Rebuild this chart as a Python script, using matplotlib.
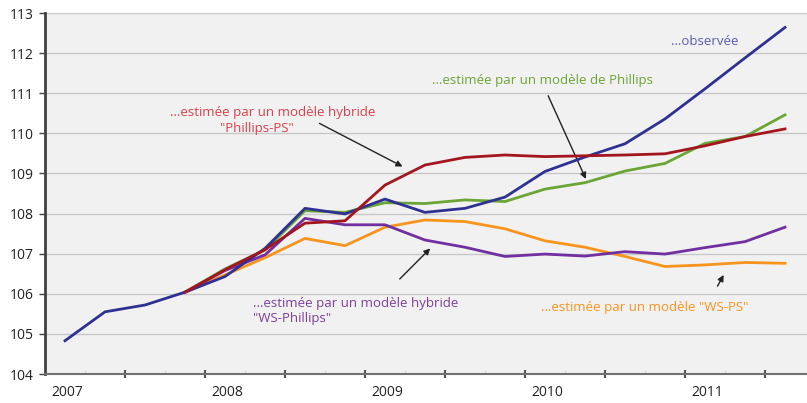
import matplotlib
matplotlib.use("Agg")
import matplotlib.pyplot as plt
from matplotlib.ticker import FixedLocator

plt.rcParams['font.family'] = ['Open Sans', 'DejaVu Sans']

# quarterly index, 2007Q1 .. 2011Q3
quarters = list(range(19))
years = ["2007", "2008", "2009", "2010", "2011"]
year_pos = [0, 4, 8, 12, 16]

observed = [104.83, 105.55, 105.72, 106.04, 106.43, 107.13, 108.13, 107.99,
            108.36, 108.03, 108.13, 108.41, 109.05, 109.41, 109.74, 110.36,
            111.11, 111.88, 112.64]

# model series start at 2007Q4
model_q = quarters[3:]
phillips = [106.04, 106.62, 107.09, 108.07, 108.03, 108.27, 108.25, 108.34,
            108.30, 108.61, 108.77, 109.06, 109.25, 109.75, 109.92, 110.46]
phillips_ps = [106.04, 106.60, 107.10, 107.76, 107.82, 108.71, 109.21, 109.40,
               109.46, 109.42, 109.44, 109.46, 109.49, 109.69, 109.92, 110.11]
ws_phillips = [106.04, 106.58, 106.97, 107.88, 107.72, 107.72, 107.34, 107.16,
               106.93, 106.99, 106.94, 107.05, 106.99, 107.15, 107.30, 107.66]
ws_ps = [106.04, 106.47, 106.90, 107.38, 107.20, 107.66, 107.84, 107.80,
         107.62, 107.32, 107.16, 106.93, 106.68, 106.72, 106.78, 106.76]

fig = plt.figure(figsize=(8.07, 4.03), dpi=100)
ax = fig.add_axes([45 / 807, 29 / 403, 1 - 45 / 807, 361 / 403])
ax.set_facecolor('#f1f1f1')

ax.plot(model_q, ws_ps, color='#f7941d', lw=2, zorder=3)
ax.plot(model_q, ws_phillips, color='#7030a0', lw=2, zorder=3)
ax.plot(model_q, phillips, color='#6aa535', lw=2, zorder=3)
ax.plot(quarters, observed, color='#2e3192', lw=2, zorder=4)
ax.plot(model_q, phillips_ps, color='#a3151f', lw=2, zorder=5)

ax.set_xlim(-0.5, 18.55)
ax.set_ylim(104, 113)
ax.set_yticks(range(104, 114))
ax.grid(axis='y', color='#c8c8c8', lw=1)
ax.set_axisbelow(True)

for s in ['top', 'right']:
    ax.spines[s].set_visible(False)
ax.spines['left'].set_color('#404040')
ax.spines['left'].set_linewidth(2)
ax.spines['bottom'].set_color('#707070')
ax.spines['bottom'].set_linewidth(1.5)

ax.tick_params(axis='y', length=4, width=1, color='#404040',
               labelsize=10, labelcolor='#222222', pad=4)
ax.xaxis.set_major_locator(FixedLocator([1.5 + 2 * i for i in range(9)]))
ax.xaxis.set_minor_locator(FixedLocator([0.5 + 2 * i for i in range(9)]))
ax.tick_params(axis='x', which='major', direction='inout', length=6, width=1.5,
               color='#505050', labelbottom=False)
ax.tick_params(axis='x', which='minor', direction='in', length=3, width=1,
               color='#bfe0e0')
for p, y in zip(year_pos, years):
    ax.text(p + 0.07, -0.05, y, transform=ax.get_xaxis_transform(),
            ha='center', va='center', fontsize=10, color='#222222')

fs = 9.5
arrow = dict(arrowstyle='-|>', color='#222222', lw=1, mutation_scale=9)

ax.text(16.0, 112.3, "…observée", color='#5b5bb0', fontsize=fs,
        ha='center', va='center')
ax.text(11.95, 111.31, "…estimée par un modèle de Phillips", color='#6aa535',
        fontsize=fs, ha='center', va='center')
ax.annotate("", xy=(13.05, 108.8), xytext=(12.05, 111.0), arrowprops=arrow)

ax.text(5.2, 110.53, "…estimée par un modèle hybride", color='#d9404a',
        fontsize=fs, ha='center', va='center')
ax.text(4.8, 110.13, "\"Phillips-PS\"", color='#d9404a',
        fontsize=fs, ha='center', va='center')
ax.annotate("", xy=(8.5, 109.14), xytext=(6.3, 110.28), arrowprops=arrow)

ax.text(4.7, 105.56, "…estimée par un modèle hybride\n\"WS-Phillips\"",
        color='#7e3f98', fontsize=fs, ha='left', va='center',
        linespacing=1.2)
ax.annotate("", xy=(9.18, 107.18), xytext=(8.32, 106.32), arrowprops=arrow)

ax.text(14.5, 105.67, "…estimée par un modèle \"WS-PS\"", color='#f7941d',
        fontsize=fs, ha='center', va='center')
ax.annotate("", xy=(16.5, 106.53), xytext=(16.28, 106.13), arrowprops=arrow)

fig.savefig("out.png", dpi=100, facecolor='white')
